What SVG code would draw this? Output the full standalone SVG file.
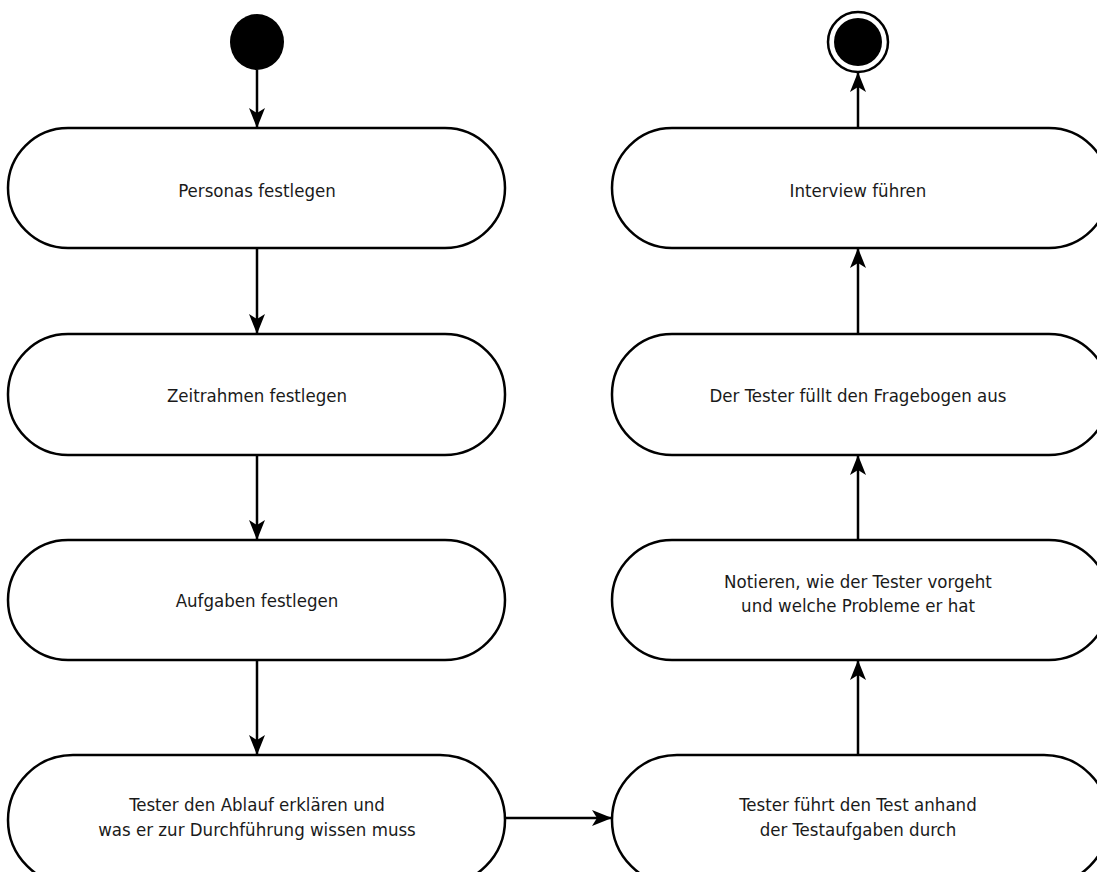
<svg xmlns="http://www.w3.org/2000/svg" width="1097" height="872" viewBox="0 0 1097 872">
<style>
.n{fill:#fff;stroke:#000;stroke-width:2.5}
.t{font-family:'DejaVu Sans Condensed','DejaVu Sans',sans-serif;font-stretch:condensed;font-size:18.5px;fill:#1a1a1a;text-anchor:middle}
.c{stroke:#000;stroke-width:2.5;fill:none}
</style>
<defs>
<marker id="a" viewBox="0 0 20 16" refX="19" refY="8" markerWidth="20" markerHeight="16" markerUnits="userSpaceOnUse" orient="auto">
<path d="M0,0 L20,8 L0,16 L5,8 Z" fill="#000"/>
</marker>
</defs>
<rect width="1097" height="872" fill="#fff"/>
<g id="start"><ellipse cx="257" cy="42" rx="27" ry="28" fill="#000"/></g>
<g id="end"><circle cx="858" cy="42" r="30" fill="#fff" stroke="#000" stroke-width="2.5"/><circle cx="858" cy="42" r="24" fill="#000"/></g>
<g id="n1"><rect class="n" x="8" y="128" width="497" height="120" rx="60" ry="60"/><text class="t" x="257" y="197">Personas festlegen</text></g>
<g id="n2"><rect class="n" x="8" y="334" width="497" height="121" rx="60" ry="60"/><text class="t" x="257" y="402">Zeitrahmen festlegen</text></g>
<g id="n3"><rect class="n" x="8" y="540" width="497" height="120" rx="60" ry="60"/><text class="t" x="257" y="607">Aufgaben festlegen</text></g>
<g id="n4"><rect class="n" x="8" y="755" width="497" height="130" rx="65" ry="65"/><text class="t" x="257" y="811">Tester den Ablauf erklären und</text><text class="t" x="257" y="836">was er zur Durchführung wissen muss</text></g>
<g id="n5"><rect class="n" x="612" y="755" width="497" height="130" rx="65" ry="65"/><text class="t" x="858" y="811">Tester führt den Test anhand</text><text class="t" x="858" y="836">der Testaufgaben durch</text></g>
<g id="n6"><rect class="n" x="612" y="540" width="497" height="120" rx="60" ry="60"/><text class="t" x="858" y="588">Notieren, wie der Tester vorgeht</text><text class="t" x="858" y="612">und welche Probleme er hat</text></g>
<g id="n7"><rect class="n" x="612" y="334" width="497" height="121" rx="60" ry="60"/><text class="t" x="858" y="402">Der Tester füllt den Fragebogen aus</text></g>
<g id="n8"><rect class="n" x="612" y="128" width="497" height="120" rx="60" ry="60"/><text class="t" x="858" y="197">Interview führen</text></g>
<g id="connectors">
<line class="c" x1="257" y1="70" x2="257" y2="127" marker-end="url(#a)"/>
<line class="c" x1="257" y1="248" x2="257" y2="333" marker-end="url(#a)"/>
<line class="c" x1="257" y1="455" x2="257" y2="539" marker-end="url(#a)"/>
<line class="c" x1="257" y1="660" x2="257" y2="754" marker-end="url(#a)"/>
<line class="c" x1="505" y1="818" x2="611" y2="818" marker-end="url(#a)"/>
<line class="c" x1="858" y1="755" x2="858" y2="661" marker-end="url(#a)"/>
<line class="c" x1="858" y1="540" x2="858" y2="456" marker-end="url(#a)"/>
<line class="c" x1="858" y1="334" x2="858" y2="249" marker-end="url(#a)"/>
<line class="c" x1="858" y1="128" x2="858" y2="73" marker-end="url(#a)"/>
</g>
</svg>
